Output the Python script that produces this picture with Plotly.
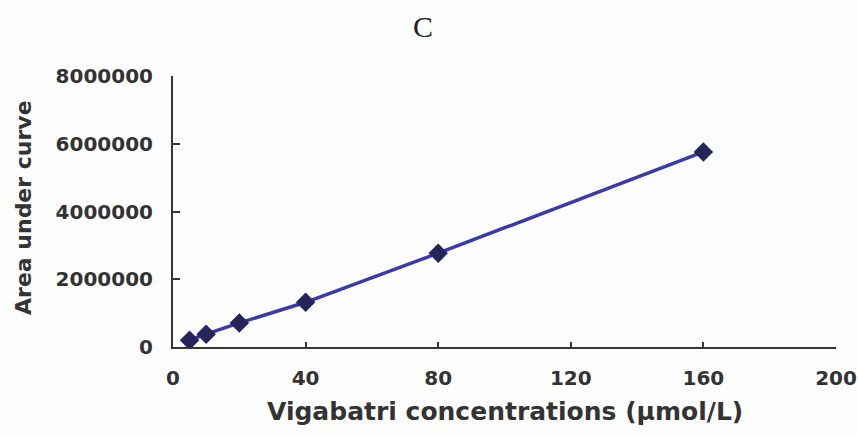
import plotly.graph_objects as go

concentrations = [5, 10, 20, 40, 80, 160]
auc_values = [200000, 380000, 710000, 1320000, 2770000, 5760000]
x_ticks = [0, 40, 80, 120, 160, 200]
y_ticks = [0, 2000000, 4000000, 6000000, 8000000]
y_tick_labels = ["0", "2000000", "4000000", "6000000", "8000000"]

font_b = "DejaVu Sans, Verdana, sans-serif"
axis_col = "#3a3333"

fig = go.Figure()
fig.add_trace(go.Scatter(
    x=concentrations, y=auc_values, mode="lines+markers",
    line=dict(color="#3a3aab", width=3.5),
    marker=dict(symbol="diamond", size=15, color="#25255c"),
    showlegend=False,
))

fig.update_layout(
    width=858, height=435,
    margin=dict(l=173, r=22, t=76, b=88),
    paper_bgcolor="#fefefe", plot_bgcolor="rgba(0,0,0,0)",
    xaxis=dict(range=[0, 200], tickvals=x_ticks, ticks="inside", ticklen=5,
               tickcolor=axis_col, tickwidth=2, showline=True, linecolor=axis_col,
               linewidth=2, showgrid=False, zeroline=False, ticklabelstandoff=12,
               automargin=False,
               tickfont=dict(family=font_b, size=20, color="#333", weight="bold")),
    yaxis=dict(range=[0, 8000000], tickvals=y_ticks, ticktext=y_tick_labels,
               ticks="inside", ticklen=7, tickcolor=axis_col, tickwidth=2, showline=True,
               linecolor=axis_col, linewidth=2, showgrid=False, zeroline=False,
               ticklabelstandoff=14, automargin=False,
               tickfont=dict(family=font_b, size=20, color="#333", weight="bold")),
)

fig.add_annotation(text="C", xref="paper", yref="paper", x=(423 - 173) / 663,
                   y=(347 - 26) / 271, xanchor="center", yanchor="middle", showarrow=False,
                   font=dict(family="Liberation Serif, Times New Roman, serif", size=30, color="#222"))
fig.add_annotation(text="Area under curve", xref="paper", yref="paper", x=(23 - 173) / 663,
                   y=(347 - 208) / 271, xanchor="center", yanchor="middle", textangle=-90,
                   showarrow=False,
                   font=dict(family=font_b, size=22, color="#333", weight="bold"))
fig.add_annotation(text="Vigabatri concentrations (µmol/L)", xref="paper", yref="paper",
                   x=(505 - 173) / 663, y=(347 - 411) / 271, xanchor="center",
                   yanchor="middle", showarrow=False,
                   font=dict(family=font_b, size=25, color="#333", weight="bold"))

fig.write_html("out.html")
